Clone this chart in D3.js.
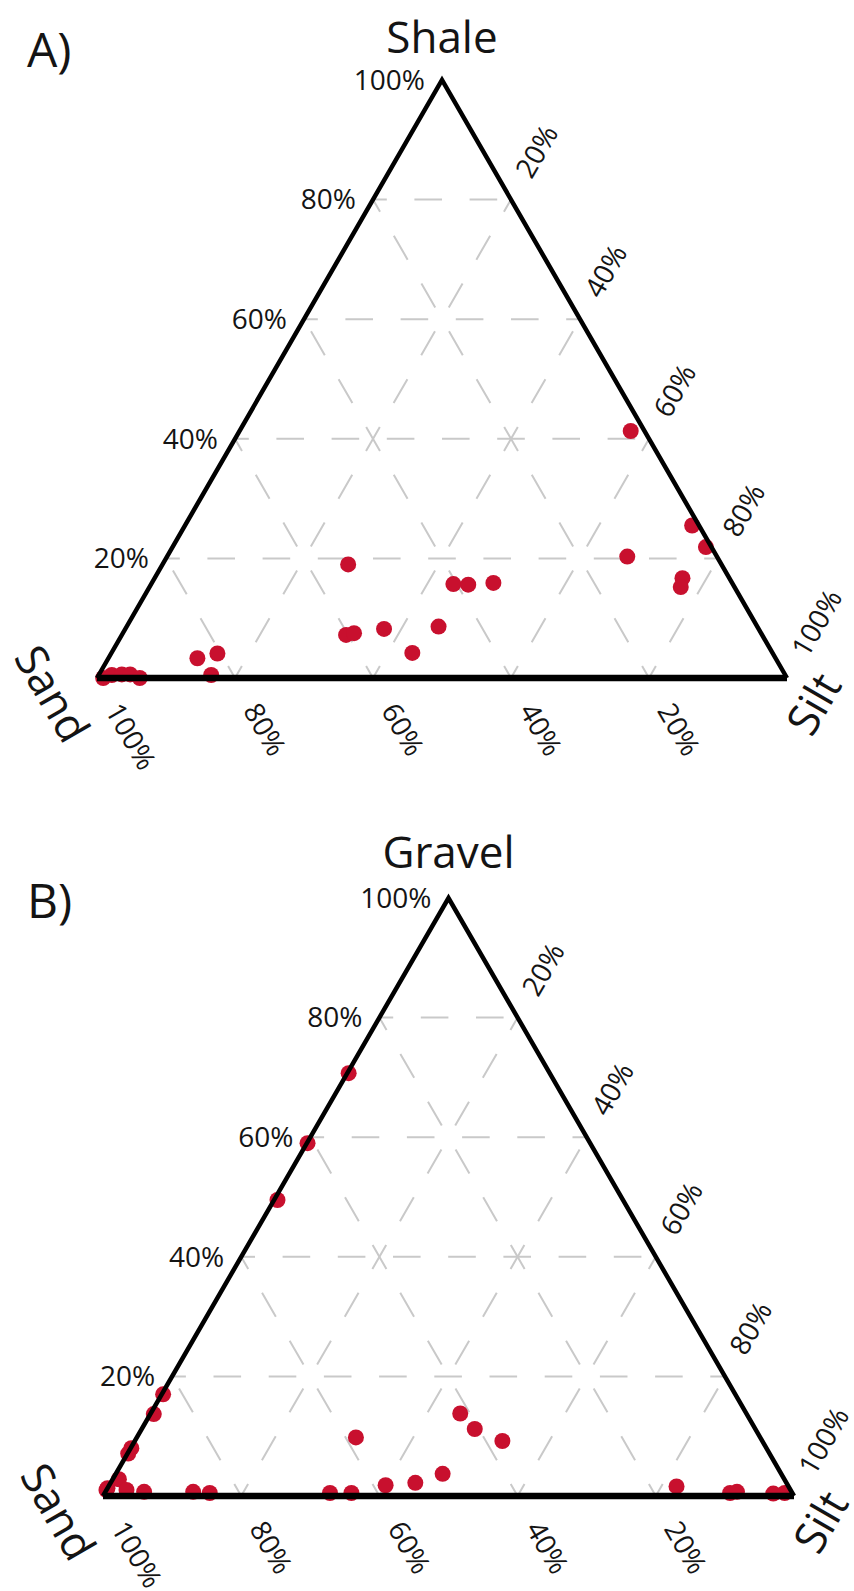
<!DOCTYPE html>
<html>
<head>
<meta charset="utf-8">
<script src="https://cdn.jsdelivr.net/npm/d3@7"></script>
<style>
  body { margin: 0; background: #ffffff; }
  svg { display: block; }
  text { font-family: "Open Sans", "Noto Sans", sans-serif; fill: #141414; }
</style>
</head>
<body>
<svg id="chart" width="854" height="1591"></svg>
<script>
// Panel A: sample composition, percent shale / sand / silt
const shaleA = [41.3, 25.5, 21.9, 20.3, 16.7, 15.2, 15.7, 15.6, 15.9, 19.0, 7.2, 7.5, 8.2, 4.2, 8.6, 3.3, 4.1, 0.5, 0.0, 0.5, 0.6, 0.6, 0.0];
const sandA  = [2.0, 1.0, 0.8, 13.0, 6.8, 7.8, 40.5, 38.4, 34.6, 54.1, 60.3, 59.0, 54.3, 52.2, 46.2, 83.8, 80.5, 83.2, 99.1, 97.6, 96.1, 94.9, 93.8];
const siltA  = [56.7, 73.5, 77.3, 66.7, 76.5, 77.0, 43.8, 46.0, 49.5, 26.9, 32.5, 33.5, 37.5, 43.6, 45.2, 12.9, 15.4, 16.3, 0.9, 1.9, 3.3, 4.5, 6.2];

// Panel B: sample composition, percent gravel / sand / silt
const gravelB = [70.7, 59.0, 49.5, 17.0, 13.7, 8.0, 7.1, 2.8, 1.3, 1.0, 1.0, 0.7, 0.7, 0.5, 0.5, 0.5, 1.8, 2.2, 3.7, 9.8, 13.8, 11.2, 9.2, 1.6, 0.5, 0.7, 0.4, 0.5];
const sandB   = [29.1, 40.9, 50.0, 82.8, 85.8, 91.9, 92.8, 96.3, 98.7, 99.0, 96.1, 93.7, 86.6, 84.3, 66.9, 63.8, 58.2, 53.7, 49.0, 58.5, 41.4, 40.6, 37.6, 16.2, 9.0, 7.9, 2.8, 1.1];
const siltB   = [0.2, 0.1, 0.5, 0.2, 0.5, 0.1, 0.1, 0.9, 0.0, 0.0, 2.9, 5.6, 12.7, 15.2, 32.6, 35.7, 40.0, 44.1, 47.3, 31.7, 44.8, 48.2, 53.2, 82.2, 90.5, 91.4, 96.8, 98.4];

// Grid and tick values (percent)
const gridValues = [20, 40, 60, 80];
const tickValues = [20, 40, 60, 80, 100];

const panels = [
  { letter: "A)", apexLabel: "Shale", top: shaleA, sand: sandA, silt: siltA,
    left: 97, right: 787, base: 678, apexY: 80, titleGap: 27, letterY: 67 },
  { letter: "B)", apexLabel: "Gravel", top: gravelB, sand: sandB, silt: siltB,
    left: 103, right: 794, base: 1496, apexY: 898, titleGap: 30, letterY: 918 }
];

const svg = d3.select("#chart");
const pointColor = "#c8102e";
const gridColor = "#c9c9c9";
const dashLen = 27.6;

panels.forEach(p => {
  const g = svg.append("g");
  // x runs along the base (silt + top/2), y follows the apex component
  const x = d3.scaleLinear().domain([0, 100]).range([p.left, p.right]);
  const y = d3.scaleLinear().domain([0, 100]).range([p.base, p.apexY]);
  const proj = (top, sand, silt) => {
    const t = top + sand + silt;
    const a = 100 * top / t, s = 100 * silt / t;
    return [x(s + a / 2), y(a)];
  };
  const line = d3.line();

  // dashed grid: constant apex component, constant silt, constant sand
  const gridLines = [];
  gridValues.forEach(v => {
    gridLines.push([proj(v, 100 - v, 0), proj(v, 0, 100 - v)]);
    gridLines.push([proj(0, 100 - v, v), proj(100 - v, 0, v)]);
    gridLines.push([proj(0, v, 100 - v), proj(100 - v, v, 0)]);
  });
  g.append("g").selectAll("path").data(gridLines).join("path")
    .attr("d", line)
    .attr("fill", "none")
    .attr("stroke", gridColor)
    .attr("stroke-width", 2)
    .attr("stroke-dasharray", `${dashLen} ${dashLen}`)
    .attr("stroke-dashoffset", dashLen / 2);

  // samples
  const samples = p.top.map((d, i) => proj(d, p.sand[i], p.silt[i]));
  g.append("g").selectAll("circle").data(samples).join("circle")
    .attr("cx", d => d[0]).attr("cy", d => d[1])
    .attr("r", 8)
    .attr("fill", pointColor);

  // triangle outline
  const L = proj(0, 100, 0), R = proj(0, 0, 100), T = proj(100, 0, 0);
  g.append("path").attr("d", line([L, T, R]))
    .attr("fill", "none").attr("stroke", "#000")
    .attr("stroke-width", 4.5).attr("stroke-linejoin", "miter");
  g.append("path").attr("d", line([L, R]))
    .attr("fill", "none").attr("stroke", "#000")
    .attr("stroke-width", 6.5);

  const tickSize = 28;
  // apex-component labels on the left edge
  g.append("g").selectAll("text").data(tickValues).join("text")
    .attr("x", v => proj(v, 100 - v, 0)[0] - 17)
    .attr("y", v => proj(v, 100 - v, 0)[1])
    .attr("dy", "0.35em")
    .attr("text-anchor", "end")
    .attr("font-size", tickSize)
    .text(v => v + "%");

  // silt labels beyond the right edge, along the constant-silt lines
  const c60 = Math.cos(Math.PI / 3), s60 = Math.sin(Math.PI / 3);
  g.append("g").selectAll("text").data(tickValues).join("text")
    .attr("transform", v => {
      const [px, py] = proj(100 - v, 0, v);
      return `translate(${px + 28 * c60 - 2},${py - 28 * s60}) rotate(-60)`;
    })
    .attr("dy", "0.35em")
    .attr("font-size", tickSize)
    .text(v => v + "%");

  // sand labels below the base, along the constant-sand lines
  g.append("g").selectAll("text").data(tickValues).join("text")
    .attr("transform", v => {
      const [px, py] = proj(0, v, 100 - v);
      return `translate(${px + 32 * c60},${py + 32 * s60}) rotate(60)`;
    })
    .attr("dy", "0.35em")
    .attr("font-size", tickSize)
    .text(v => v + "%");

  // corner names
  g.append("text")
    .attr("x", T[0]).attr("y", T[1] - p.titleGap)
    .attr("text-anchor", "middle")
    .attr("font-size", 44)
    .text(p.apexLabel);
  g.append("text")
    .attr("transform", `translate(${L[0] - 45},${L[1] + 16}) rotate(60)`)
    .attr("text-anchor", "middle").attr("dy", "0.35em")
    .attr("font-size", 44)
    .text("Sand");
  g.append("text")
    .attr("transform", `translate(${R[0] + 27},${R[1] + 26}) rotate(-60)`)
    .attr("text-anchor", "middle").attr("dy", "0.35em")
    .attr("font-size", 44)
    .text("Silt");

  // panel letter
  g.append("text")
    .attr("x", 27).attr("y", p.letterY)
    .attr("font-size", 48)
    .text(p.letter);
});
</script>
</body>
</html>
